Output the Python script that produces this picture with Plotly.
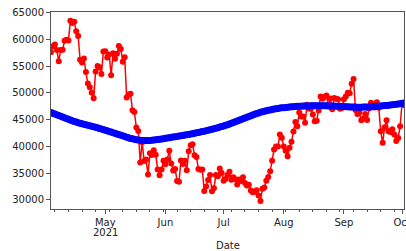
import pandas as pd
import plotly.graph_objects as go

start_date = "2021-04-03"
end_date = "2021-10-02"

# Red series (daily price), one list per month
red_apr = [57600, 58760, 59060, 58020, 55950, 58050, 58100, 59770, 59970, 59840,
           63500, 63110, 63310, 61570, 60680, 56220, 55720, 56470, 53910, 51760,
           51090, 50050, 49000, 54020, 55030, 54820, 53560, 57750]
red_may = [57830, 56630, 57200, 53330, 57420, 56400, 57360, 58800, 58230, 55860,
           56700, 49150, 49720, 49880, 46760, 46460, 43540, 42910, 37000, 40780,
           37300, 37540, 34770, 38710, 38400, 39290, 38440, 35700, 34620, 35680, 37330]
red_jun = [36690, 37580, 39190, 36830, 35520, 35800, 33550, 33380, 37390, 36700,
           37330, 35550, 39100, 40220, 40410, 38350, 38050, 35790, 35620, 35700,
           31680, 32510, 33720, 34660, 31640, 32190, 34650, 34430, 35870, 35040]
red_jul = [33570, 33900, 34670, 35290, 33750, 34240, 33860, 32880, 33800, 33520,
           34240, 33160, 32700, 32820, 31780, 31420, 31530, 31800, 30820, 29810,
           32110, 32310, 33580, 34290, 35350, 37340, 39410, 40000, 40010, 42240, 41630]
red_aug = [39970, 39200, 38150, 39750, 40870, 42820, 44560, 43800, 46370, 45590,
           45590, 44430, 47790, 47100, 47050, 46000, 44700, 44800, 46720, 49340,
           48910, 49320, 49550, 47710, 48960, 46940, 49060, 48900, 48830, 47050, 47170]
red_sep = [48850, 49330, 50030, 49940, 51750, 52630, 46810, 46090, 46390, 44880,
           45200, 46060, 44960, 47090, 48180, 47780, 47270, 48280, 47260, 42840,
           40690, 43580, 44900, 42840, 42720, 43210, 42240, 41040, 41560, 43790]
red_oct = [48120, 47710]

# Blue series (smooth trend), one list per month
blue_apr = [46350, 46200, 46060, 45920, 45780, 45640, 45500, 45360, 45220, 45080,
            44950, 44820, 44690, 44560, 44430, 44330, 44240, 44150, 44060, 43970,
            43880, 43790, 43690, 43590, 43480, 43370, 43260, 43150]
blue_may = [43040, 42930, 42820, 42700, 42580, 42460, 42340, 42220, 42100, 41980,
            41860, 41740, 41620, 41510, 41420, 41330, 41250, 41190, 41140, 41110,
            41100, 41100, 41110, 41130, 41160, 41200, 41240, 41290, 41340, 41400, 41460]
blue_jun = [41520, 41580, 41640, 41700, 41760, 41820, 41880, 41940, 42000, 42060,
            42120, 42180, 42250, 42320, 42390, 42460, 42540, 42620, 42700, 42780,
            42860, 42950, 43040, 43130, 43220, 43320, 43420, 43520, 43620, 43730]
blue_jul = [43840, 43960, 44080, 44220, 44360, 44500, 44640, 44780, 44920, 45060,
            45200, 45340, 45480, 45620, 45760, 45890, 46020, 46150, 46270, 46380,
            46480, 46580, 46670, 46760, 46840, 46920, 46990, 47060, 47120, 47170, 47220]
blue_aug = [47260, 47300, 47340, 47380, 47410, 47440, 47470, 47500, 47520, 47540,
            47560, 47570, 47580, 47590, 47600, 47610, 47610, 47620, 47620, 47620,
            47610, 47610, 47600, 47590, 47580, 47570, 47560, 47540, 47520, 47500, 47480]
blue_sep = [47450, 47430, 47410, 47390, 47380, 47370, 47360, 47350, 47350, 47350,
            47360, 47370, 47380, 47400, 47420, 47440, 47470, 47500, 47530, 47560,
            47600, 47640, 47680, 47720, 47760, 47810, 47860, 47910, 47960, 48010]
blue_oct = [48060, 48110]

red_values = red_apr + red_may + red_jun + red_jul + red_aug + red_sep + red_oct
blue_values = blue_apr + blue_may + blue_jun + blue_jul + blue_aug + blue_sep + blue_oct
dates = pd.date_range(start_date, periods=len(red_values), freq="D")

x_tick_vals = ["2021-05-01", "2021-06-01", "2021-07-01", "2021-08-01", "2021-09-01", "2021-10-01"]
x_tick_text = ["May", "Jun", "Jul", "Aug", "Sep", "Oct"]
year_label = "2021"
y_tick_vals = [30000, 35000, 40000, 45000, 50000, 55000, 60000, 65000]
y_tick_text = [str(v) for v in y_tick_vals]
x_label = "Date"

fig = go.Figure()
fig.add_trace(go.Scatter(
    x=dates, y=red_values, mode="lines+markers",
    line=dict(color="#ff0000", width=1.5),
    marker=dict(color="#ff0000", size=6, symbol="circle"),
    showlegend=False,
))
fig.add_trace(go.Scatter(
    x=dates, y=blue_values, mode="lines+markers",
    line=dict(color="#0000ff", width=1.5),
    marker=dict(color="#0000ff", size=7, symbol="circle"),
    showlegend=False,
))

axis_col = "#555555"
font = dict(family="DejaVu Sans", size=10, color="#222222")

fig.update_layout(
    width=406, height=251, autosize=False,
    margin=dict(l=51, r=2, t=12, b=42, autoexpand=False),
    paper_bgcolor="white", plot_bgcolor="white",
    font=font,
    xaxis=dict(
        type="date", range=[start_date, end_date], automargin=False,
        tickmode="array", tickvals=x_tick_vals, ticktext=x_tick_text,
        ticks="outside", ticklen=4, tickwidth=1, tickcolor=axis_col,
        ticklabeloverflow="allow",
        showgrid=False, zeroline=False,
        showline=True, linecolor=axis_col, linewidth=1, mirror=True,
        tickfont=font,
        minor=dict(ticks="outside", ticklen=2, tickwidth=1, tickcolor=axis_col,
                   tick0="2021-04-05", dtick=7 * 86400000, showgrid=False),
    ),
    yaxis=dict(
        range=[28300, 65150], automargin=False,
        tickmode="array", tickvals=y_tick_vals, ticktext=y_tick_text,
        ticks="outside", ticklen=4, tickwidth=1, tickcolor=axis_col,
        showgrid=False, zeroline=False,
        showline=True, linecolor=axis_col, linewidth=1, mirror=True,
        tickfont=font,
    ),
    annotations=[
        dict(x="2021-05-01", y=0, xref="x", yref="paper", text=year_label,
             showarrow=False, font=font, xanchor="center", yanchor="top", yshift=-16),
        dict(x=0.5, y=0, xref="paper", yref="paper", text=x_label,
             showarrow=False, font=font, xanchor="center", yanchor="top", yshift=-29),
    ],
)

fig.write_html(
    "out.html",
    config={"displayModeBar": False, "staticPlot": True},
    post_script="document.body.style.margin='0';document.body.style.overflow='hidden';",
)
